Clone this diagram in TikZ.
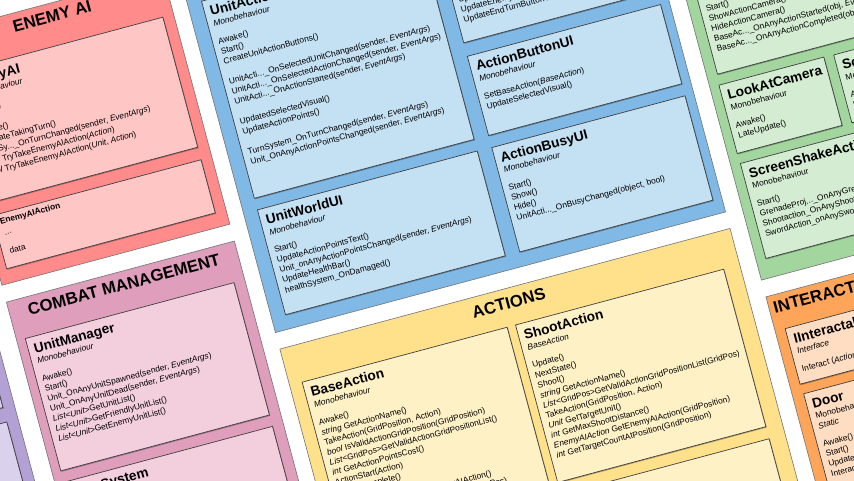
\documentclass[tikz,border=0pt]{standalone}
\usepackage{fontspec}
\setmainfont{Liberation Sans}
\usetikzlibrary{shadows}

\definecolor{redpanel}{HTML}{FF8B8B}
\definecolor{redbox}{HTML}{FFC6C6}
\definecolor{pinkpanel}{HTML}{DE9EBC}
\definecolor{pinkbox}{HTML}{F3CEDC}
\definecolor{purplepanel}{HTML}{B3A1D6}
\definecolor{purplebox}{HTML}{DAD1EC}
\definecolor{bluepanel}{HTML}{80B9E5}
\definecolor{bluebox}{HTML}{C4E0F3}
\definecolor{greenpanel}{HTML}{A2D69E}
\definecolor{greenbox}{HTML}{D4ECD2}
\definecolor{yellowpanel}{HTML}{FFE08B}
\definecolor{yellowbox}{HTML}{FFF1C6}
\definecolor{orangepanel}{HTML}{FFA55A}
\definecolor{orangebox}{HTML}{FFDDC3}

\tikzset{
  panel/.style={draw=black!55, line width=0.6pt},
  paneltitle/.style={font=\fontsize{16.7}{20}\selectfont\bfseries, inner sep=0pt, anchor=base},
  clsbox/.style={draw=black!75, line width=0.7pt, anchor=north west, inner sep=0pt,
    drop shadow={shadow xshift=0.9pt, shadow yshift=-0.9pt, fill=black, opacity=0.3}},
  clstitle/.style={font=\fontsize{13.7}{16}\selectfont\bfseries, inner sep=0pt, anchor=base west},
  clsops/.style={font=\fontsize{8.4}{10.4}\selectfont, inner sep=0pt, anchor=base west},
}
\newcommand{\ty}[1]{\textit{#1}}
% name, a, b, width, height, fill, title, subtitle, operations
\newcommand{\umlclass}[9]{%
  \node[clsbox, fill=#6, minimum width=#4pt, minimum height=#5pt] (#1) at (#2,#3) {};
  \node[clstitle] (#1-title) at (#2+6,#3+17) {#7};
  \node[clsops] (#1-ops) at (#2+6,#3+28) {\begin{tabular}[t]{@{}l@{}}#8\\[8pt]#9\end{tabular}};}

\begin{document}
\begin{tikzpicture}
\useasboundingbox (0,0) rectangle (854pt,-480pt);
\fill[white] (0,0) rectangle (854pt,-480pt);
\clip (0,0) rectangle (854pt,-480pt);
\begin{scope}[x=1pt, y=-1pt, rotate=15, transform shape]
% panels
\draw[panel, fill=purplepanel] (-330,293.5) rectangle (-91,900);
\draw[panel, fill=redpanel] (-72,16) rectangle (164,276);
\draw[panel, fill=pinkpanel] (-72,293.5) rectangle (164,900);
\draw[panel, fill=bluepanel] (180,16) rectangle (646,392.5);
\draw[panel, fill=yellowpanel] (180,409.6) rectangle (646,900);
\draw[panel, fill=greenpanel] (663,16) rectangle (910,467.6);
\draw[panel, fill=orangepanel] (663,485) rectangle (910,900);
\node[paneltitle] (enemy-head) at (46,35) {ENEMY AI};
\node[paneltitle] (combat-head) at (46,312.7) {COMBAT MANAGEMENT};
\node[paneltitle] (actions-head) at (413,430) {ACTIONS};
\node[paneltitle, anchor=base west] (interact-head) at (667.5,503.2) {INTERACTABLES};

% purple
\node[clsbox, fill=purplebox, minimum width=217pt, minimum height=89pt] (purple1) at (-320,305) {};
\node[clsbox, fill=purplebox, minimum width=217pt, minimum height=400pt] (purple2) at (-320,409) {};

% enemy ai
\umlclass{enemyai}{-63.5}{58.4}{216}{134.6}{redbox}{EnemyAI}{\ty{Monobehaviour}}{Awake()\\Start()\\Update()\\SetStateTakingTurn()\\TurnSy...\_OnTurnChanged(sender, \ty{EventArgs})\\\ty{bool} TryTakeEnemyAIAction(\ty{Action})\\\ty{bool} TryTakeEnemyAIAction(\ty{Unit}, \ty{Action})}
\node[clsbox, fill=redbox, minimum width=216pt, minimum height=55pt] (enemyaction) at (-63.5,206) {};
\node[clsops, font=\fontsize{8.4}{10.4}\selectfont\bfseries] (enemyaction-title) at (-57.5,216.8) {EnemyAIAction};
\node[clsops] (enemyaction-ops) at (-56,228.5) {\begin{tabular}[t]{@{}l@{}}...\\[9pt]data\end{tabular}};

% combat management
\umlclass{unitmanager}{-63.5}{333.2}{216}{137}{pinkbox}{UnitManager}{\ty{Monobehaviour}}{Awake()\\Start()\\Unit\_OnAnyUnitSpawned(sender, \ty{EventArgs})\\Unit\_OnAnyUnitDead(sender, \ty{EventArgs})\\\ty{List<Unit>}GetUnitList()\\\ty{List<Unit>}GetFriendlyUnitList()\\\ty{List<Unit>}GetEnemyUnitList()}
\umlclass{turnsystem}{-63.5}{482}{216}{300}{pinkbox}{TurnSystem}{}{}

% ui
\umlclass{actionsystemui}{194}{53}{227.5}{204}{bluebox}{UnitActionSystemUI}{\ty{Monobehaviour}}{Awake()\\Start()\\CreateUnitActionButtons()\\ \\UnitActi...\_OnSelectedUnitChanged(sender, \ty{EventArgs})\\UnitActi...\_OnSelectedActionChanged(sender, \ty{EventArgs})\\UnitActi...\_OnActionStarted(sender, \ty{EventArgs})\\ \\UpdatedSelectedVisual()\\UpdateActionPoints()\\ \\TurnSystem\_OnTurnChanged(sender, \ty{EventArgs})\\Unit\_OnAnyActionPointsChanged(sender, \ty{EventArgs})}
\node[clsbox, fill=bluebox, minimum width=200pt, minimum height=86pt] (turnsystemui) at (436.5,75) {};
\node[clsops] (turnsystemui-ops) at (442.5,121.4) {\begin{tabular}[t]{@{}l@{}}UpdateTurnText()\\UpdateEnemyTurnVisual()\\UpdateEndTurnButtonVisibility()\end{tabular}};
\umlclass{actionbuttonui}{436.5}{175}{200}{82}{bluebox}{ActionButtonUI}{\ty{Monobehaviour}}{SetBaseAction(\ty{BaseAction})\\UpdateSelectedVisual()}
\umlclass{unitworldui}{194}{269}{227.5}{108.5}{bluebox}{UnitWorldUI}{\ty{Monobehaviour}}{Start()\\UpdateActionPointsText()\\Unit\_onAnyActionPointsChanged(sender, \ty{EventArgs})\\UpdateHealthBar()\\healthSystem\_OnDamaged()}
\umlclass{actionbusyui}{436.5}{269.5}{200}{108}{bluebox}{ActionBusyUI}{\ty{Monobehaviour}}{Start()\\Show()\\Hide()\\UnitActi...\_OnBusyChanged(object, bool)}

% actions
\umlclass{baseaction}{192.6}{447}{212.2}{300}{yellowbox}{BaseAction}{\ty{Monobehaviour}}{Awake()\\\ty{string} GetActionName()\\TakeAction(GridPosition, Action)\\\ty{bool} IsValidActionGridPosition(GridPosition)\\\ty{List}<GridPos>GetValidActionGridPositionList()\\\ty{int} GetActionPointsCost()\\ActionStart(Action)\\ActionComplete()\\\ty{Unit} GetUnit()\\\ty{EnemyAIAction} GetBestEnemyAIAction()\\\ty{EnemyAIAction} GetEnemyAIAction(GridPos)}
\umlclass{shootaction}{413.5}{447}{215.5}{163}{yellowbox}{ShootAction}{\ty{BaseAction}}{Update()\\NextState()\\Shoot()\\\ty{string} GetActionName()\\\ty{List}<GridPos>GetValidActionGridPositionList(GridPos)\\TakeAction(GridPosition, Action)\\\ty{Unit} GetTargetUnit()\\\ty{int} GetMaxShootDistance()\\\ty{EnemyAIAction} GetEnemyAIAction(GridPosition)\\\ty{int} GetTargetCountAtPosition(GridPosition)}
\node[clsbox, fill=yellowbox, minimum width=215.5pt, minimum height=200pt] (nextaction) at (413.5,622.5) {};

% camera and effects
\node[clsbox, fill=greenbox, minimum width=226pt, minimum height=109.2pt] (cameramanager) at (673.5,147.8) {};
\node[clsops] (cameramanager-ops) at (679.5,194.2) {\begin{tabular}[t]{@{}l@{}}Start()\\ShowActionCamera()\\HideActionCamera()\\BaseAc...\_OnAnyActionStarted(obj, \ty{EventArgs})\\BaseAc...\_OnAnyActionCompleted(obj, \ty{EventArgs})\end{tabular}};
\umlclass{lookatcamera}{672}{268}{108.6}{70.7}{greenbox}{LookAtCamera}{Monobehaviour}{Awake()\\LateUpdate()}
\umlclass{screenshake}{790.7}{268.5}{108.6}{70.2}{greenbox}{ScreenShake}{Monobehaviour}{Awake()\\Shake(float)}
\umlclass{screenshakeactions}{672.5}{349.2}{226.5}{98.3}{greenbox}{ScreenShakeActions}{Monobehaviour}{Start()\\GrenadeProj...\_OnAnyGrenadeExploded(obj, \ty{EventArgs})\\Shootaction\_OnAnyShoot(obj, \ty{EventArgs})\\SwordAction\_onAnySwordHit(obj, \ty{EventArgs})}

% interactables
\umlclass{iinteractable}{673}{520.3}{226}{57.5}{orangebox}{IInteractable}{\ty{Interface}}{Interact (\ty{Action} onInteractionComplete)}
\umlclass{door}{674}{588}{226}{200}{orangebox}{Door}{Monobehaviour, IInteractable\\\ty{Static}}{Awake()\\Start()\\Update()\\Interact(\ty{Action} onInteractionComplete)}
\end{scope}
\end{tikzpicture}
\end{document}
